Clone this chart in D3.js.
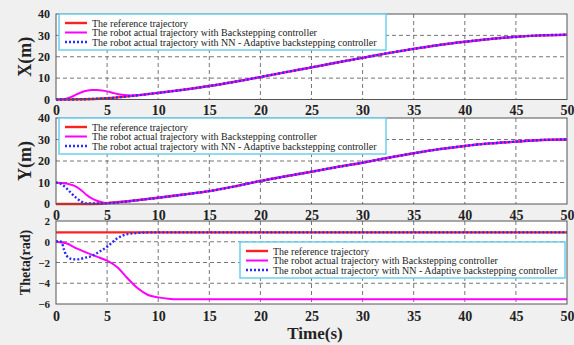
<!DOCTYPE html>
<html lang="en">
<head>
  <meta charset="UTF-8">
  <title>Trajectories</title>
  <script src="https://d3js.org/d3.v7.min.js"></script>
  <style>
    body { margin: 0; background: #f0f0f0; }
    svg { display: block; }
  </style>
</head>
<body>
  <div id="chart"></div>
  <script>
    // time ticks and panel ticks
    const timeTicks = [0, 5, 10, 15, 20, 25, 30, 35, 40, 45, 50];
    const posTicks = [0, 10, 20, 30, 40];
    const thetaTicks = [-6, -4, -2, 0, 2];

    const legendLabels = [
      'The reference trajectory',
      'The robot actual trajectory with Backstepping controller',
      'The robot actual trajectory with NN - Adaptive backstepping controller'
    ];

    // X(m)
    const tX = [0, 2.5, 5, 7.5, 10, 12.5, 15, 17.5, 20, 22.5, 25, 27.5, 30, 32.5, 35, 37.5, 40, 42.5, 45, 47.5, 50];
    const xRef = [0, 0.1, 0.6, 1.7, 3.1, 4.6, 6.3, 8.3, 10.5, 12.8, 15.0, 17.3, 19.5, 21.7, 23.7, 25.5, 27.0, 28.3, 29.3, 30.0, 30.3];
    const tXBack = [0, 0.5, 1, 1.5, 2, 2.5, 3, 3.5, 4, 4.5, 5, 5.5, 6, 6.5, 7, 7.5, 10, 12.5, 15, 17.5, 20, 22.5, 25, 27.5, 30, 32.5, 35, 37.5, 40, 42.5, 45, 47.5, 50];
    const xBack = [0, 0.1, 0.4, 1.2, 2.4, 3.4, 4.1, 4.4, 4.4, 4.2, 3.8, 3.2, 2.6, 2.2, 2.0, 1.9, 3.1, 4.6, 6.3, 8.3, 10.5, 12.8, 15.0, 17.3, 19.5, 21.7, 23.7, 25.5, 27.0, 28.3, 29.3, 30.0, 30.3];
    const tXNN = [0, 1, 2, 3, 4, 5, 7.5, 10, 12.5, 15, 17.5, 20, 22.5, 25, 27.5, 30, 32.5, 35, 37.5, 40, 42.5, 45, 47.5, 50];
    const xNN = [0, 0, 0.05, 0.15, 0.35, 0.6, 1.7, 3.1, 4.6, 6.3, 8.3, 10.5, 12.8, 15.0, 17.3, 19.5, 21.7, 23.7, 25.5, 27.0, 28.3, 29.3, 30.0, 30.3];

    // Y(m)
    const tY = [0, 2.5, 4.5, 5, 7.5, 10, 12.5, 15, 17.5, 20, 22.5, 25, 27.5, 30, 32.5, 35, 37.5, 40, 42.5, 45, 47.5, 50];
    const yRef = [0, 0, 0.1, 0.4, 1.5, 2.9, 4.4, 6.0, 8.2, 10.7, 12.9, 15.0, 17.2, 19.2, 21.5, 23.6, 25.5, 27.0, 28.2, 29.0, 29.8, 30.0];
    const tYBack = [0, 0.5, 1, 1.5, 2, 2.5, 3, 3.5, 4, 4.5, 5, 6, 7.5, 10, 12.5, 15, 17.5, 20, 22.5, 25, 27.5, 30, 32.5, 35, 37.5, 40, 42.5, 45, 47.5, 50];
    const yBack = [9.9, 9.8, 9.5, 8.9, 8.0, 6.3, 4.2, 2.6, 1.5, 0.8, 0.4, 0.7, 1.5, 2.9, 4.4, 6.0, 8.2, 10.7, 12.9, 15.0, 17.2, 19.2, 21.5, 23.6, 25.5, 27.0, 28.2, 29.0, 29.8, 30.0];
    const tYNN = [0, 0.5, 1, 1.5, 2, 2.5, 3, 4, 5, 6, 7.5, 10, 12.5, 15, 17.5, 20, 22.5, 25, 27.5, 30, 32.5, 35, 37.5, 40, 42.5, 45, 47.5, 50];
    const yNN = [10, 9.3, 7.4, 5.0, 2.8, 1.1, 0.3, 0.2, 0.3, 0.7, 1.5, 2.9, 4.4, 6.0, 8.2, 10.7, 12.9, 15.0, 17.2, 19.2, 21.5, 23.6, 25.5, 27.0, 28.2, 29.0, 29.8, 30.0];

    // Theta(rad)
    const tThRef = [0, 50];
    const thRef = [0.9, 0.9];
    const tThBack = [0, 1, 2, 3, 4, 5, 6, 7, 8, 9, 10, 11, 12, 50];
    const thBack = [0, -0.15, -0.63, -1.05, -1.44, -1.83, -2.46, -3.52, -4.49, -5.13, -5.36, -5.5, -5.55, -5.55];
    const tThNN = [0, 0.5, 0.8, 1, 1.5, 2, 3, 3.5, 4, 5, 6, 7, 8, 9, 50];
    const thNN = [0.05, 0, -0.8, -1.3, -1.65, -1.7, -1.5, -1.37, -1.1, -0.48, 0.33, 0.74, 0.85, 0.9, 0.9];

    const width = 574, height = 345;
    const left = 56, right = 567;
    const serif = '"Liberation Serif", "Times New Roman", serif';

    const svg = d3.select('#chart').append('svg')
      .attr('width', width).attr('height', height);

    svg.append('rect').attr('width', width).attr('height', height).attr('fill', '#f0f0f0');

    const x = d3.scaleLinear().domain([0, 50]).range([left, right]);

    const styles = [
      { color: '#ff2020', width: 2.4, dash: null },
      { color: '#ff00ff', width: 2, dash: null },
      { color: '#2a2aff', width: 2.4, dash: '2,2' }
    ];

    const panels = [
      { title: 'X(m)', titleSize: 18, tickSize: 12, ticks: posTicks, domain: [0, 40], range: [99.5, 14], labY: 110,
        series: [[tX, xRef], [tXBack, xBack], [tXNN, xNN]],
        legend: { x: 59, y: 14, w: 327, h: 36 } },
      { title: 'Y(m)', titleSize: 18, tickSize: 12, ticks: posTicks, domain: [0, 40], range: [204, 118], labY: 215,
        series: [[tY, yRef], [tYBack, yBack], [tYNN, yNN]],
        legend: { x: 59, y: 118, w: 327, h: 36 } },
      { title: 'Theta(rad)', titleSize: 14, tickSize: 11, ticks: thetaTicks, domain: [-6, 2], range: [304, 221], labY: 316,
        series: [[tThRef, thRef], [tThBack, thBack], [tThNN, thNN]],
        legend: { x: 240, y: 242, w: 325, h: 36 } }
    ];

    panels.forEach((p) => {
      const y = d3.scaleLinear().domain(p.domain).range(p.range);
      const top = p.range[1], bot = p.range[0];
      const g = svg.append('g');

      g.append('rect').attr('x', left).attr('y', top)
        .attr('width', right - left).attr('height', bot - top).attr('fill', '#fff');

      // grid
      g.selectAll('.gx').data(timeTicks.slice(1, -1)).enter().append('line')
        .attr('x1', (d) => x(d)).attr('x2', (d) => x(d)).attr('y1', top).attr('y2', bot)
        .attr('stroke', '#777').attr('stroke-width', 1).attr('stroke-dasharray', '4,3');
      g.selectAll('.gy').data(p.ticks.slice(1, -1)).enter().append('line')
        .attr('x1', left).attr('x2', right).attr('y1', (d) => y(d)).attr('y2', (d) => y(d))
        .attr('stroke', '#777').attr('stroke-width', 1).attr('stroke-dasharray', '4,3');

      // curves
      const line = d3.line().x((d) => x(d[0])).y((d) => y(d[1])).curve(d3.curveMonotoneX);
      p.series.forEach((s, i) => {
        const pts = s[0].map((t, k) => [t, s[1][k]]);
        g.append('path').datum(pts).attr('d', line)
          .attr('fill', 'none').attr('stroke', styles[i].color)
          .attr('stroke-width', styles[i].width)
          .attr('stroke-dasharray', styles[i].dash);
      });

      // frame
      g.append('rect').attr('x', left).attr('y', top)
        .attr('width', right - left).attr('height', bot - top)
        .attr('fill', 'none').attr('stroke', '#555').attr('stroke-width', 1);

      // axes
      const ax = g.append('g').attr('transform', `translate(0,${bot})`)
        .call(d3.axisBottom(x).tickValues(timeTicks).tickSize(0));
      ax.select('.domain').remove();
      ax.attr('font-family', serif).attr('font-size', 14).attr('font-weight', 'bold');
      ax.selectAll('text').attr('fill', '#222')
        .attr('y', p.labY - bot).attr('dy', '0.35em');

      const ay = g.append('g').attr('transform', `translate(${left},0)`)
        .call(d3.axisLeft(y).tickValues(p.ticks).tickSize(0).tickPadding(6));
      ay.select('.domain').remove();
      ay.attr('font-family', serif).attr('font-size', p.tickSize).attr('font-weight', 'bold');
      ay.selectAll('text').attr('fill', '#222');

      // title
      const cy = (top + bot) / 2;
      g.append('text').attr('transform', `translate(25,${cy}) rotate(-90)`)
        .attr('text-anchor', 'middle').attr('dy', '0.35em')
        .attr('font-family', serif).attr('font-weight', 'bold')
        .attr('font-size', p.titleSize + 'px').attr('fill', '#222').text(p.title);

      // legend
      const L = p.legend;
      const lg = g.append('g').attr('transform', `translate(${L.x},${L.y})`);
      lg.append('rect').attr('width', L.w).attr('height', L.h)
        .attr('fill', '#fff').attr('stroke', '#6cd0f0').attr('stroke-width', 1.5);
      legendLabels.forEach((lab, i) => {
        const ry = 9 + i * 9.5;
        lg.append('line').attr('x1', 6).attr('x2', 28).attr('y1', ry).attr('y2', ry)
          .attr('stroke', styles[i].color).attr('stroke-width', styles[i].width)
          .attr('stroke-dasharray', styles[i].dash);
        lg.append('text').attr('x', 33).attr('y', ry).attr('dy', '0.35em')
          .attr('font-family', serif).attr('font-size', '10px').attr('fill', '#222')
          .text(lab);
      });
    });

    svg.append('text').attr('x', 315).attr('y', 333).attr('dy', '0.35em')
      .attr('text-anchor', 'middle')
      .attr('font-family', serif).attr('font-weight', 'bold')
      .attr('font-size', '17px').attr('fill', '#222').text('Time(s)');
  </script>
</body>
</html>
